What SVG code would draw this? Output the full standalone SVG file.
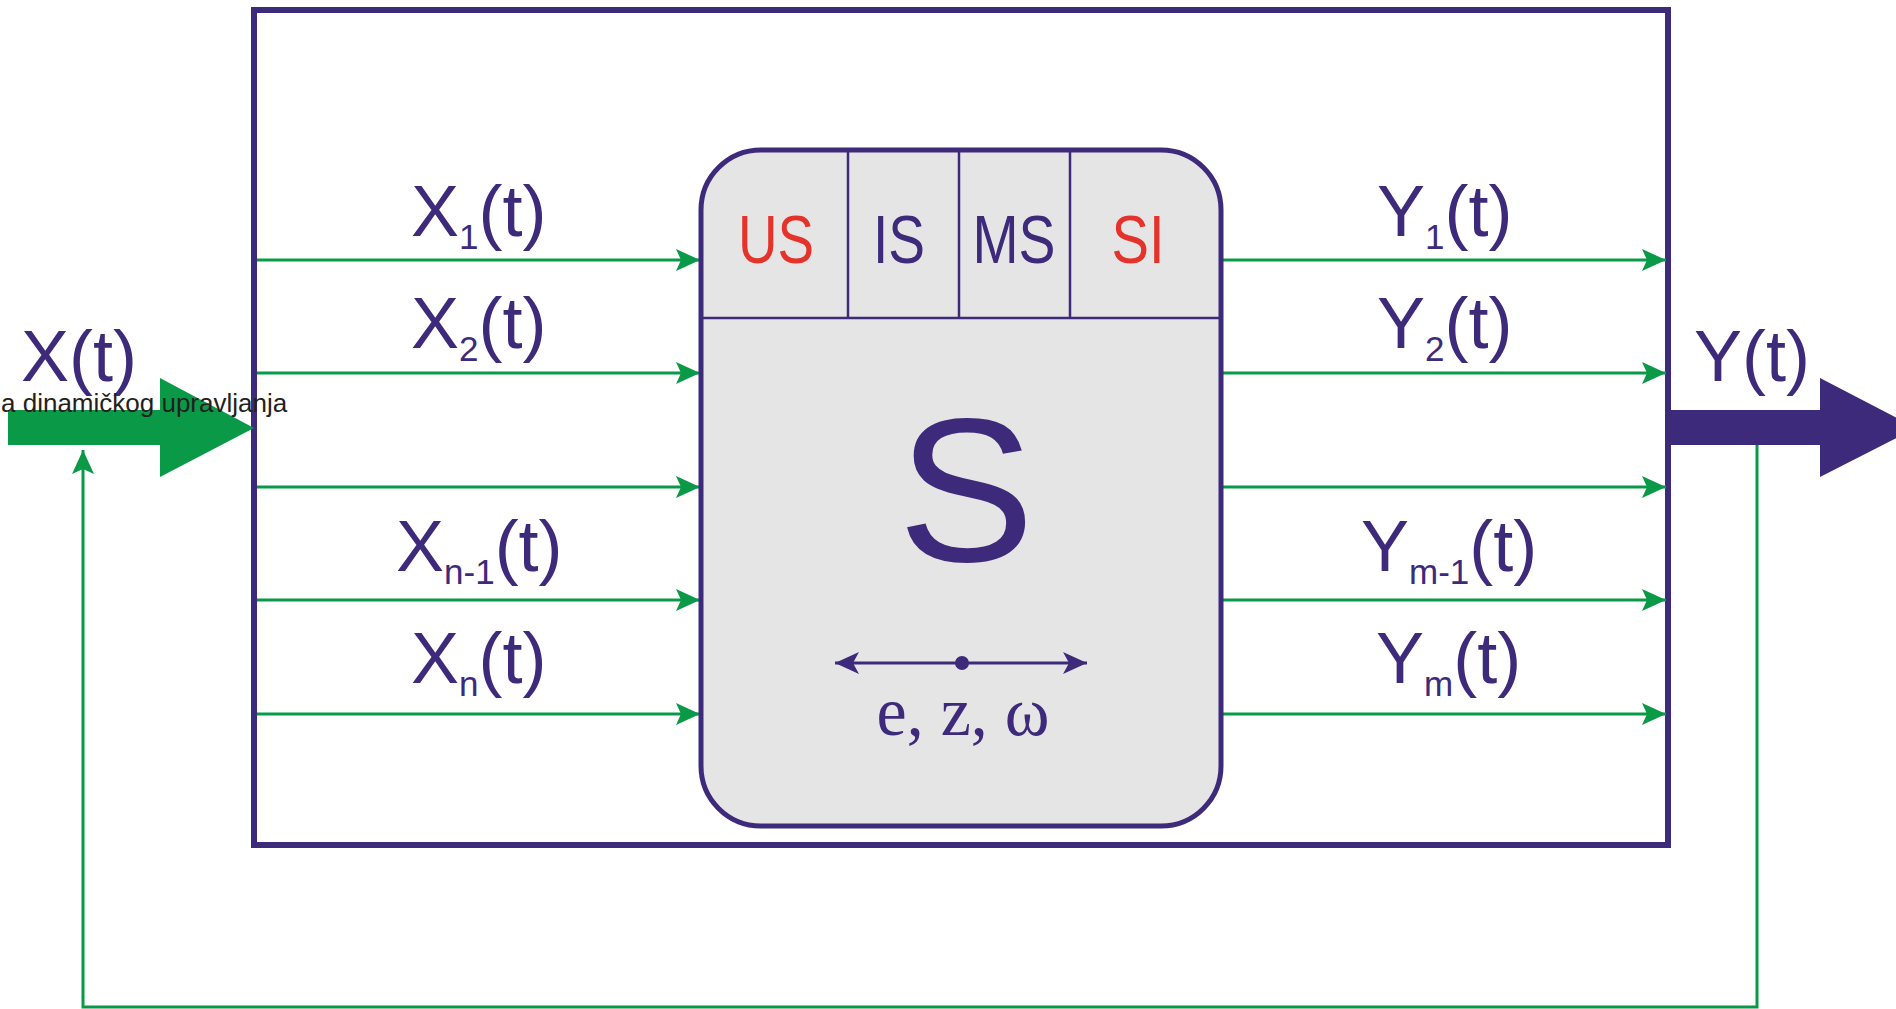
<svg xmlns="http://www.w3.org/2000/svg" width="1896" height="1009" viewBox="0 0 1896 1009">
<style>
.lbl{font-family:"Liberation Sans",Arial,sans-serif;fill:#3d2a7b;font-size:72px}
.sub{font-size:35px}
.g{stroke:#0a9a47;stroke-width:3;fill:none}
.cell{font-family:"Liberation Sans",Arial,sans-serif;font-size:68px;text-anchor:middle}
</style>
<defs>
<marker id="ga" markerUnits="userSpaceOnUse" markerWidth="26" markerHeight="24" refX="24" refY="11" orient="auto">
<path d="M0,0 L24,11 L0,22 L5,11 z" fill="#0a9a47"/>
</marker>
<marker id="pa" markerUnits="userSpaceOnUse" markerWidth="26" markerHeight="24" refX="24" refY="11" orient="auto-start-reverse">
<path d="M0,0 L24,11 L0,22 L6,11 z" fill="#3d2a7b"/>
</marker>
</defs>
<rect width="1896" height="1009" fill="#fff"/>

<g id="frame">
<rect x="254" y="10" width="1414" height="835" fill="none" stroke="#3d2a7b" stroke-width="6"/>
</g>

<g id="connectors">
<path class="g" d="M1757,445 V1007 H83 V450" marker-end="url(#ga)"/>
<line class="g" x1="257" y1="260" x2="700" y2="260" marker-end="url(#ga)"/>
<line class="g" x1="257" y1="373" x2="700" y2="373" marker-end="url(#ga)"/>
<line class="g" x1="257" y1="487" x2="700" y2="487" marker-end="url(#ga)"/>
<line class="g" x1="257" y1="600" x2="700" y2="600" marker-end="url(#ga)"/>
<line class="g" x1="257" y1="714" x2="700" y2="714" marker-end="url(#ga)"/>
<line class="g" x1="1223" y1="260" x2="1666" y2="260" marker-end="url(#ga)"/>
<line class="g" x1="1223" y1="373" x2="1666" y2="373" marker-end="url(#ga)"/>
<line class="g" x1="1223" y1="487" x2="1666" y2="487" marker-end="url(#ga)"/>
<line class="g" x1="1223" y1="600" x2="1666" y2="600" marker-end="url(#ga)"/>
<line class="g" x1="1223" y1="714" x2="1666" y2="714" marker-end="url(#ga)"/>
</g>

<g id="input-arrow">
<path d="M8,410 H160 V378 L254,428 L160,477 V445 H8 z" fill="#0a9a47"/>
<text class="lbl" x="21" y="381">X(t)</text>
<text x="1" y="412" font-family="Liberation Sans, Arial, sans-serif" font-size="26" fill="#231f20">a dinamičkog upravljanja</text>
</g>

<g id="output-arrow">
<path d="M1668,410 H1820 V378 L1916,428 L1820,477 V445 H1668 z" fill="#3d2a7b"/>
<text class="lbl" x="1694" y="381">Y(t)</text>
</g>

<g id="system">
<rect x="701" y="150" width="520" height="676" rx="60" ry="60" fill="#e6e5e5" stroke="#3d2a7b" stroke-width="5"/>
<g stroke="#3d2a7b" stroke-width="2.5">
<line x1="703" y1="318" x2="1219" y2="318"/>
<line x1="848" y1="152" x2="848" y2="318"/>
<line x1="959" y1="152" x2="959" y2="318"/>
<line x1="1070" y1="152" x2="1070" y2="318"/>
</g>
<text class="cell" x="776" y="263" fill="#e4332a" textLength="76" lengthAdjust="spacingAndGlyphs">US</text>
<text class="cell" x="899" y="263" fill="#3d2a7b" textLength="52" lengthAdjust="spacingAndGlyphs">IS</text>
<text class="cell" x="1014" y="263" fill="#3d2a7b" textLength="83" lengthAdjust="spacingAndGlyphs">MS</text>
<text class="cell" x="1138" y="263" fill="#e4332a" textLength="53" lengthAdjust="spacingAndGlyphs">SI</text>
<text x="966" y="561" font-family="Liberation Sans, Arial, sans-serif" font-size="205" fill="#3d2a7b" text-anchor="middle">S</text>
<line x1="835" y1="663" x2="1087" y2="663" stroke="#3d2a7b" stroke-width="3" marker-start="url(#pa)" marker-end="url(#pa)"/>
<circle cx="962" cy="663" r="7" fill="#3d2a7b"/>
<text x="963" y="735" font-family="Liberation Serif, Times New Roman, serif" font-size="70" fill="#3d2a7b" text-anchor="middle" textLength="173" lengthAdjust="spacingAndGlyphs">e, z, ω</text>
</g>

<g id="inputs">
<text class="lbl" x="411" y="236">X<tspan class="sub" dy="13">1</tspan><tspan dy="-13">(t)</tspan></text>
<text class="lbl" x="411" y="348">X<tspan class="sub" dy="13">2</tspan><tspan dy="-13">(t)</tspan></text>
<text class="lbl" x="396" y="571">X<tspan class="sub" dy="13">n-1</tspan><tspan dy="-13">(t)</tspan></text>
<text class="lbl" x="411" y="683">X<tspan class="sub" dy="13">n</tspan><tspan dy="-13">(t)</tspan></text>
</g>

<g id="outputs">
<text class="lbl" x="1377" y="236">Y<tspan class="sub" dy="13">1</tspan><tspan dy="-13">(t)</tspan></text>
<text class="lbl" x="1377" y="348">Y<tspan class="sub" dy="13">2</tspan><tspan dy="-13">(t)</tspan></text>
<text class="lbl" x="1361" y="571">Y<tspan class="sub" dy="13">m-1</tspan><tspan dy="-13">(t)</tspan></text>
<text class="lbl" x="1376" y="683">Y<tspan class="sub" dy="13">m</tspan><tspan dy="-13">(t)</tspan></text>
</g>
</svg>
